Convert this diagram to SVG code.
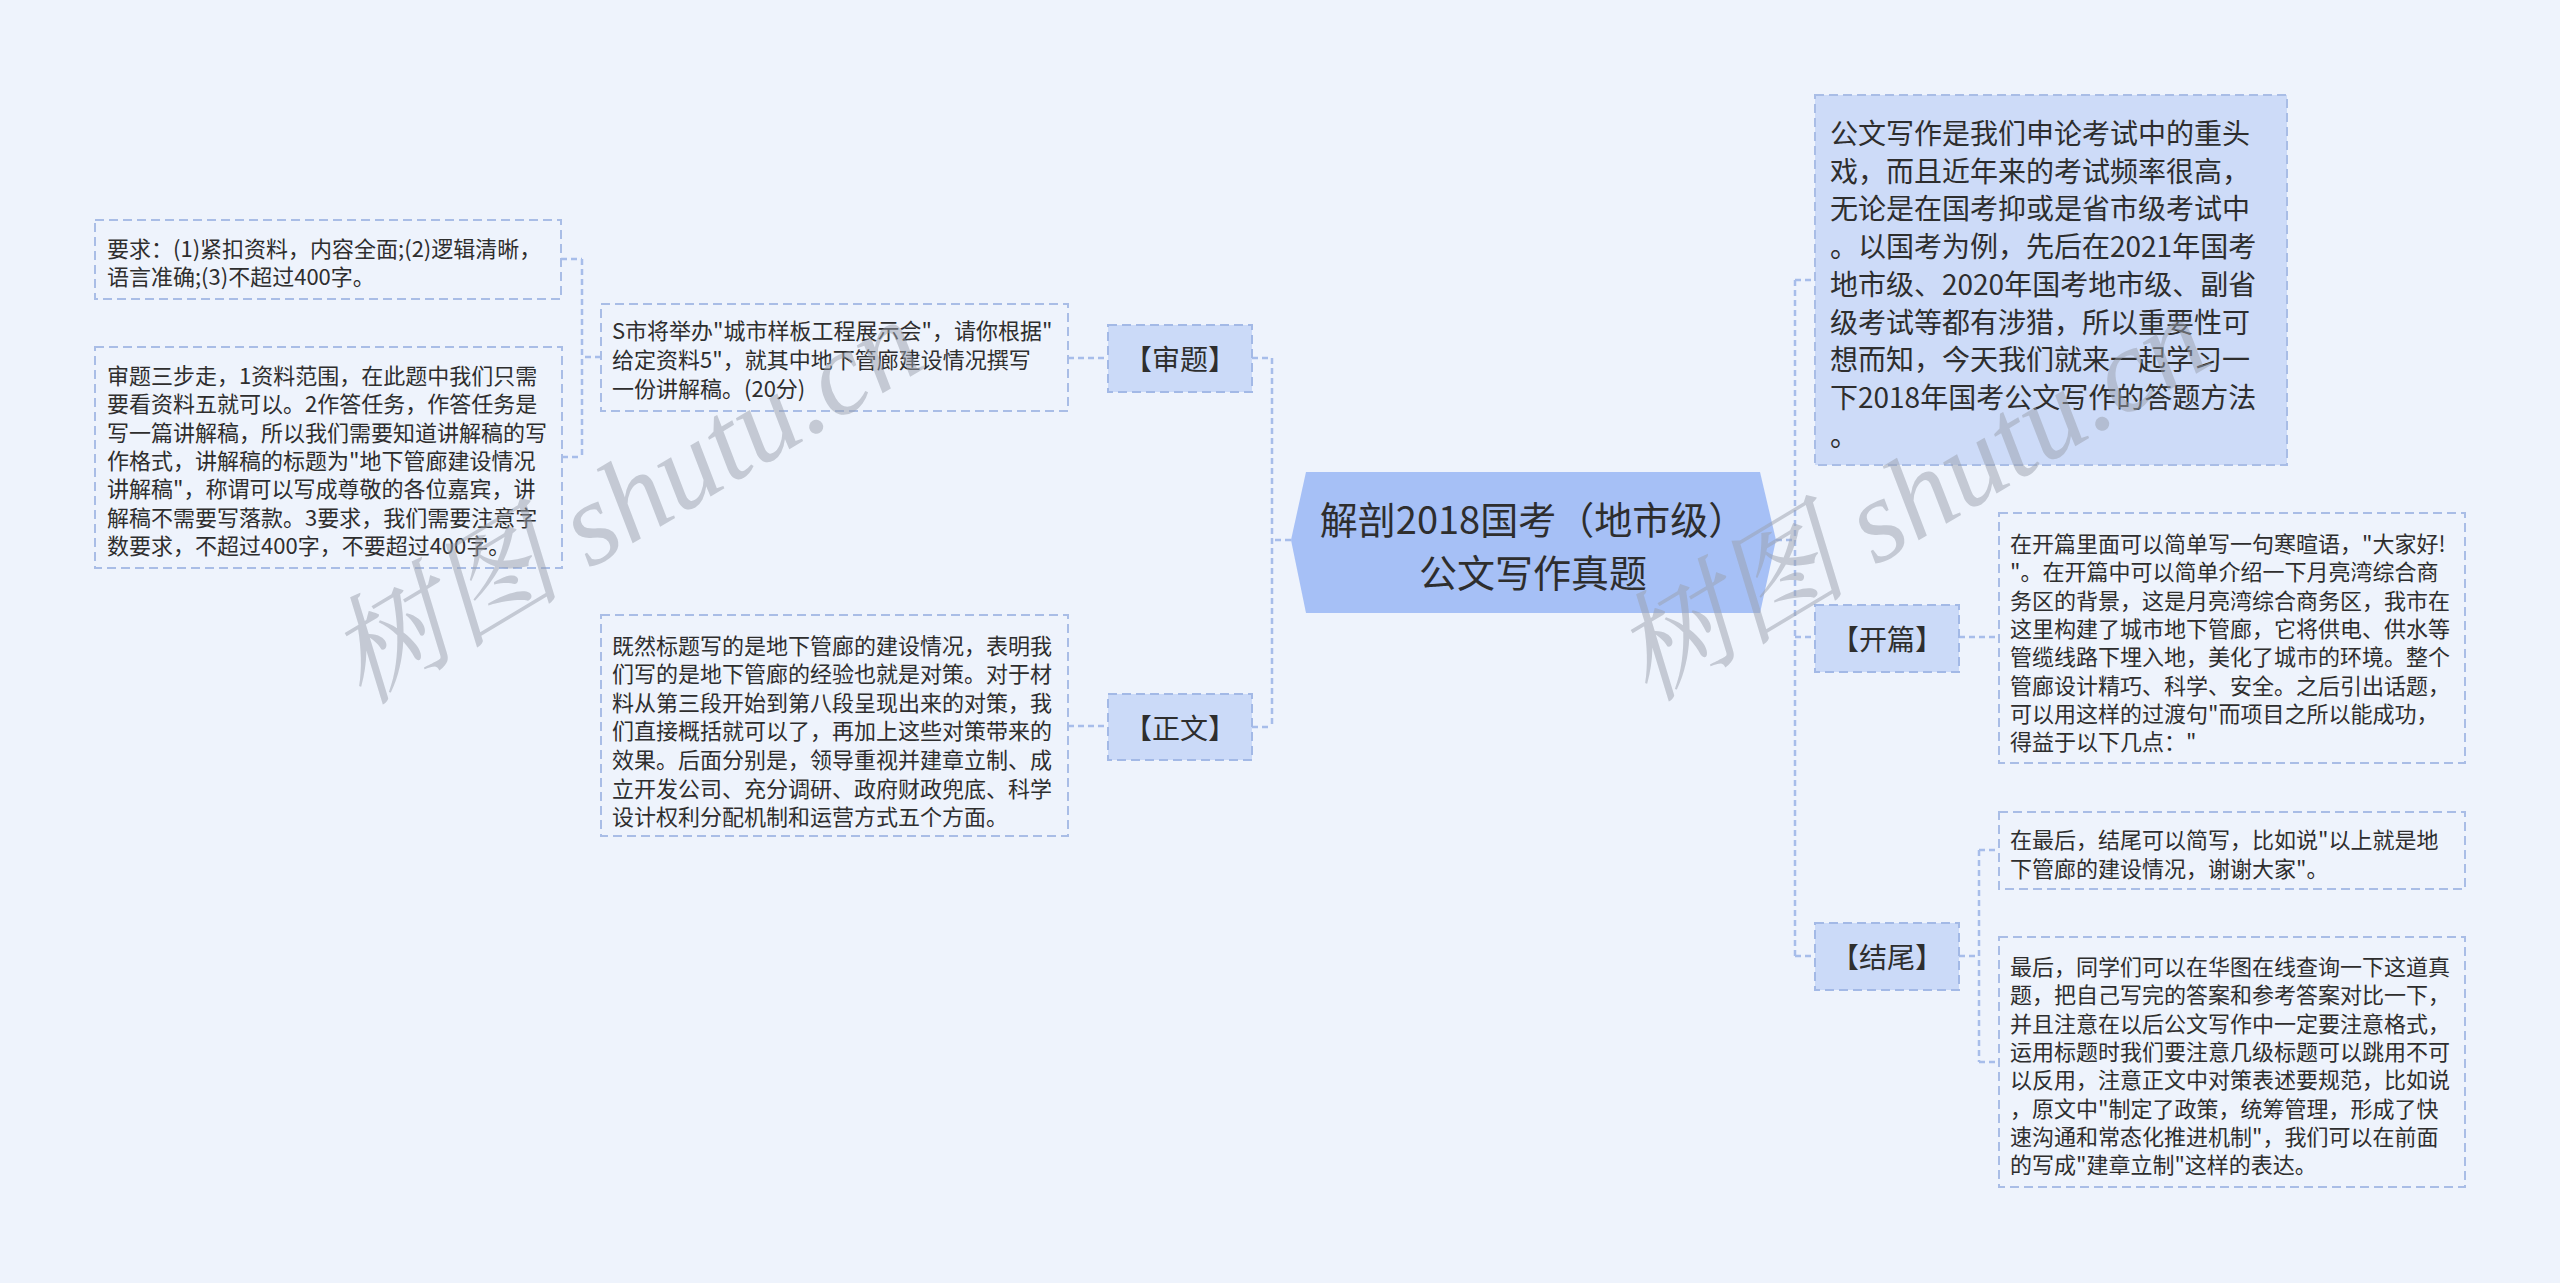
<svg xmlns="http://www.w3.org/2000/svg" width="2560" height="1283" viewBox="0 0 2560 1283">
<defs>
<style>
.bg{fill:#eef3fc}
.conn{fill:none;stroke:#a7bdea;stroke-width:2.5;stroke-dasharray:6 4}
.box{fill:none;stroke:#a9bde6;stroke-width:2;stroke-dasharray:9 5}
.lbl{fill:#cbdaf8;stroke:#a3b9e6;stroke-width:2;stroke-dasharray:9 5}
.intro{fill:#cddbf8;stroke:#a9bde6;stroke-width:2;stroke-dasharray:9 5}
.root{fill:#a6c0f6}
text{font-family:"Noto Sans CJK SC","Microsoft YaHei",sans-serif;fill:#2e2e2e;dominant-baseline:central}
.t22{font-size:22px}
.t28{font-size:28px}
.t38{font-size:38px}
.c{text-anchor:middle}
.wm{font-family:"Liberation Serif","Noto Serif CJK SC","Noto Sans CJK SC",serif;font-style:italic;font-size:118px;fill:#9aa0ab;fill-opacity:0.5;dominant-baseline:alphabetic}
</style>
</defs>
<rect class="bg" x="0" y="0" width="2560" height="1283"/>

<g id="connectors">
<path class="conn" d="M1291,540 H1272 M1272,358 V726 M1252,358 H1272 M1252,727 H1272"/>
<path class="conn" d="M1068,358 H1108 M1068,726 H1108"/>
<path class="conn" d="M601,357 H582 M582,259 V457 M561,259 H582 M562,457 H582"/>
<path class="conn" d="M1776,540 H1795 M1795,280 V956 M1795,280 H1815 M1795,637 H1815 M1795,956 H1815"/>
<path class="conn" d="M1959,637 H1999"/>
<path class="conn" d="M1959,956 H1979 M1979,850 V1062 M1979,850 H1999 M1979,1062 H1999"/>
</g>

<g id="root">
<polygon class="root" points="1306,472 1760,472 1776,540 1760,613 1306,613 1291,540"/>
<text class="t38 c" x="1533" y="517">解剖2018国考（地市级）</text>
<text class="t38 c" x="1533" y="570">公文写作真题</text>
</g>

<g id="node-shenti">
<rect class="lbl" x="1108" y="325" width="144" height="67"/>
<text class="t28 c" x="1180" y="358">【审题】</text>
</g>

<g id="node-zhengwen">
<rect class="lbl" x="1108" y="694" width="144" height="66"/>
<text class="t28 c" x="1180" y="727">【正文】</text>
</g>

<g id="node-shenti-text">
<rect class="box" x="601" y="304" width="467" height="107"/>
<text class="t22" x="612" y="329">S市将举办"城市样板工程展示会"，请你根据"</text>
<text class="t22" x="612" y="358">给定资料5"，就其中地下管廊建设情况撰写</text>
<text class="t22" x="612" y="387">一份讲解稿。(20分)</text>
</g>

<g id="node-yaoqiu">
<rect class="box" x="95" y="220" width="466" height="79"/>
<text class="t22" x="107" y="247">要求：(1)紧扣资料，内容全面;(2)逻辑清晰，</text>
<text class="t22" x="107" y="275">语言准确;(3)不超过400字。</text>
</g>

<g id="node-sanbu">
<rect class="box" x="95" y="347" width="467" height="221"/>
<text class="t22" x="107" y="374">审题三步走，1资料范围，在此题中我们只需</text>
<text class="t22" x="107" y="402.3">要看资料五就可以。2作答任务，作答任务是</text>
<text class="t22" x="107" y="430.7">写一篇讲解稿，所以我们需要知道讲解稿的写</text>
<text class="t22" x="107" y="459">作格式，讲解稿的标题为"地下管廊建设情况</text>
<text class="t22" x="107" y="487.3">讲解稿"，称谓可以写成尊敬的各位嘉宾，讲</text>
<text class="t22" x="107" y="515.7">解稿不需要写落款。3要求，我们需要注意字</text>
<text class="t22" x="107" y="544">数要求，不超过400字，不要超过400字。</text>
</g>

<g id="node-zhengwen-text">
<rect class="box" x="601" y="615" width="467" height="221"/>
<text class="t22" x="612" y="643.6">既然标题写的是地下管廊的建设情况，表明我</text>
<text class="t22" x="612" y="672.2">们写的是地下管廊的经验也就是对策。对于材</text>
<text class="t22" x="612" y="700.8">料从第三段开始到第八段呈现出来的对策，我</text>
<text class="t22" x="612" y="729.4">们直接概括就可以了，再加上这些对策带来的</text>
<text class="t22" x="612" y="758">效果。后面分别是，领导重视并建章立制、成</text>
<text class="t22" x="612" y="786.6">立开发公司、充分调研、政府财政兜底、科学</text>
<text class="t22" x="612" y="815.2">设计权利分配机制和运营方式五个方面。</text>
</g>

<g id="node-intro">
<rect class="intro" x="1815" y="95" width="472" height="370"/>
<text class="t28" x="1830" y="132">公文写作是我们申论考试中的重头</text>
<text class="t28" x="1830" y="169.7">戏，而且近年来的考试频率很高，</text>
<text class="t28" x="1830" y="207.4">无论是在国考抑或是省市级考试中</text>
<text class="t28" x="1830" y="245.1">。以国考为例，先后在2021年国考</text>
<text class="t28" x="1830" y="282.8">地市级、2020年国考地市级、副省</text>
<text class="t28" x="1830" y="320.5">级考试等都有涉猎，所以重要性可</text>
<text class="t28" x="1830" y="358.2">想而知，今天我们就来一起学习一</text>
<text class="t28" x="1830" y="395.9">下2018年国考公文写作的答题方法</text>
<text class="t28" x="1830" y="433.6">。</text>
</g>

<g id="node-kaipian">
<rect class="lbl" x="1815" y="605" width="144" height="67"/>
<text class="t28 c" x="1887" y="638">【开篇】</text>
</g>

<g id="node-kaipian-text">
<rect class="box" x="1999" y="513" width="466" height="250"/>
<text class="t22" x="2010" y="542">在开篇里面可以简单写一句寒暄语，"大家好!</text>
<text class="t22" x="2010" y="570.3">"。在开篇中可以简单介绍一下月亮湾综合商</text>
<text class="t22" x="2010" y="598.6">务区的背景，这是月亮湾综合商务区，我市在</text>
<text class="t22" x="2010" y="626.9">这里构建了城市地下管廊，它将供电、供水等</text>
<text class="t22" x="2010" y="655.2">管缆线路下埋入地，美化了城市的环境。整个</text>
<text class="t22" x="2010" y="683.5">管廊设计精巧、科学、安全。之后引出话题，</text>
<text class="t22" x="2010" y="711.8">可以用这样的过渡句"而项目之所以能成功，</text>
<text class="t22" x="2010" y="740.1">得益于以下几点："</text>
</g>

<g id="node-jiewei">
<rect class="lbl" x="1815" y="923" width="144" height="67"/>
<text class="t28 c" x="1887" y="956">【结尾】</text>
</g>

<g id="node-jiewei-a">
<rect class="box" x="1999" y="812" width="466" height="77"/>
<text class="t22" x="2010" y="838">在最后，结尾可以简写，比如说"以上就是地</text>
<text class="t22" x="2010" y="866.5">下管廊的建设情况，谢谢大家"。</text>
</g>

<g id="node-jiewei-b">
<rect class="box" x="1999" y="937" width="466" height="250"/>
<text class="t22" x="2010" y="965">最后，同学们可以在华图在线查询一下这道真</text>
<text class="t22" x="2010" y="993.3">题，把自己写完的答案和参考答案对比一下，</text>
<text class="t22" x="2010" y="1021.6">并且注意在以后公文写作中一定要注意格式，</text>
<text class="t22" x="2010" y="1049.9">运用标题时我们要注意几级标题可以跳用不可</text>
<text class="t22" x="2010" y="1078.2">以反用，注意正文中对策表述要规范，比如说</text>
<text class="t22" x="2010" y="1106.5">，原文中"制定了政策，统筹管理，形成了快</text>
<text class="t22" x="2010" y="1134.8">速沟通和常态化推进机制"，我们可以在前面</text>
<text class="t22" x="2010" y="1163.1">的写成"建章立制"这样的表达。</text>
</g>

<g id="watermark">
<text class="wm" transform="translate(362,706) rotate(-31)">树图 shutu.cn</text>
<text class="wm" transform="translate(1648,703) rotate(-31)">树图 shutu.cn</text>
</g>
</svg>
